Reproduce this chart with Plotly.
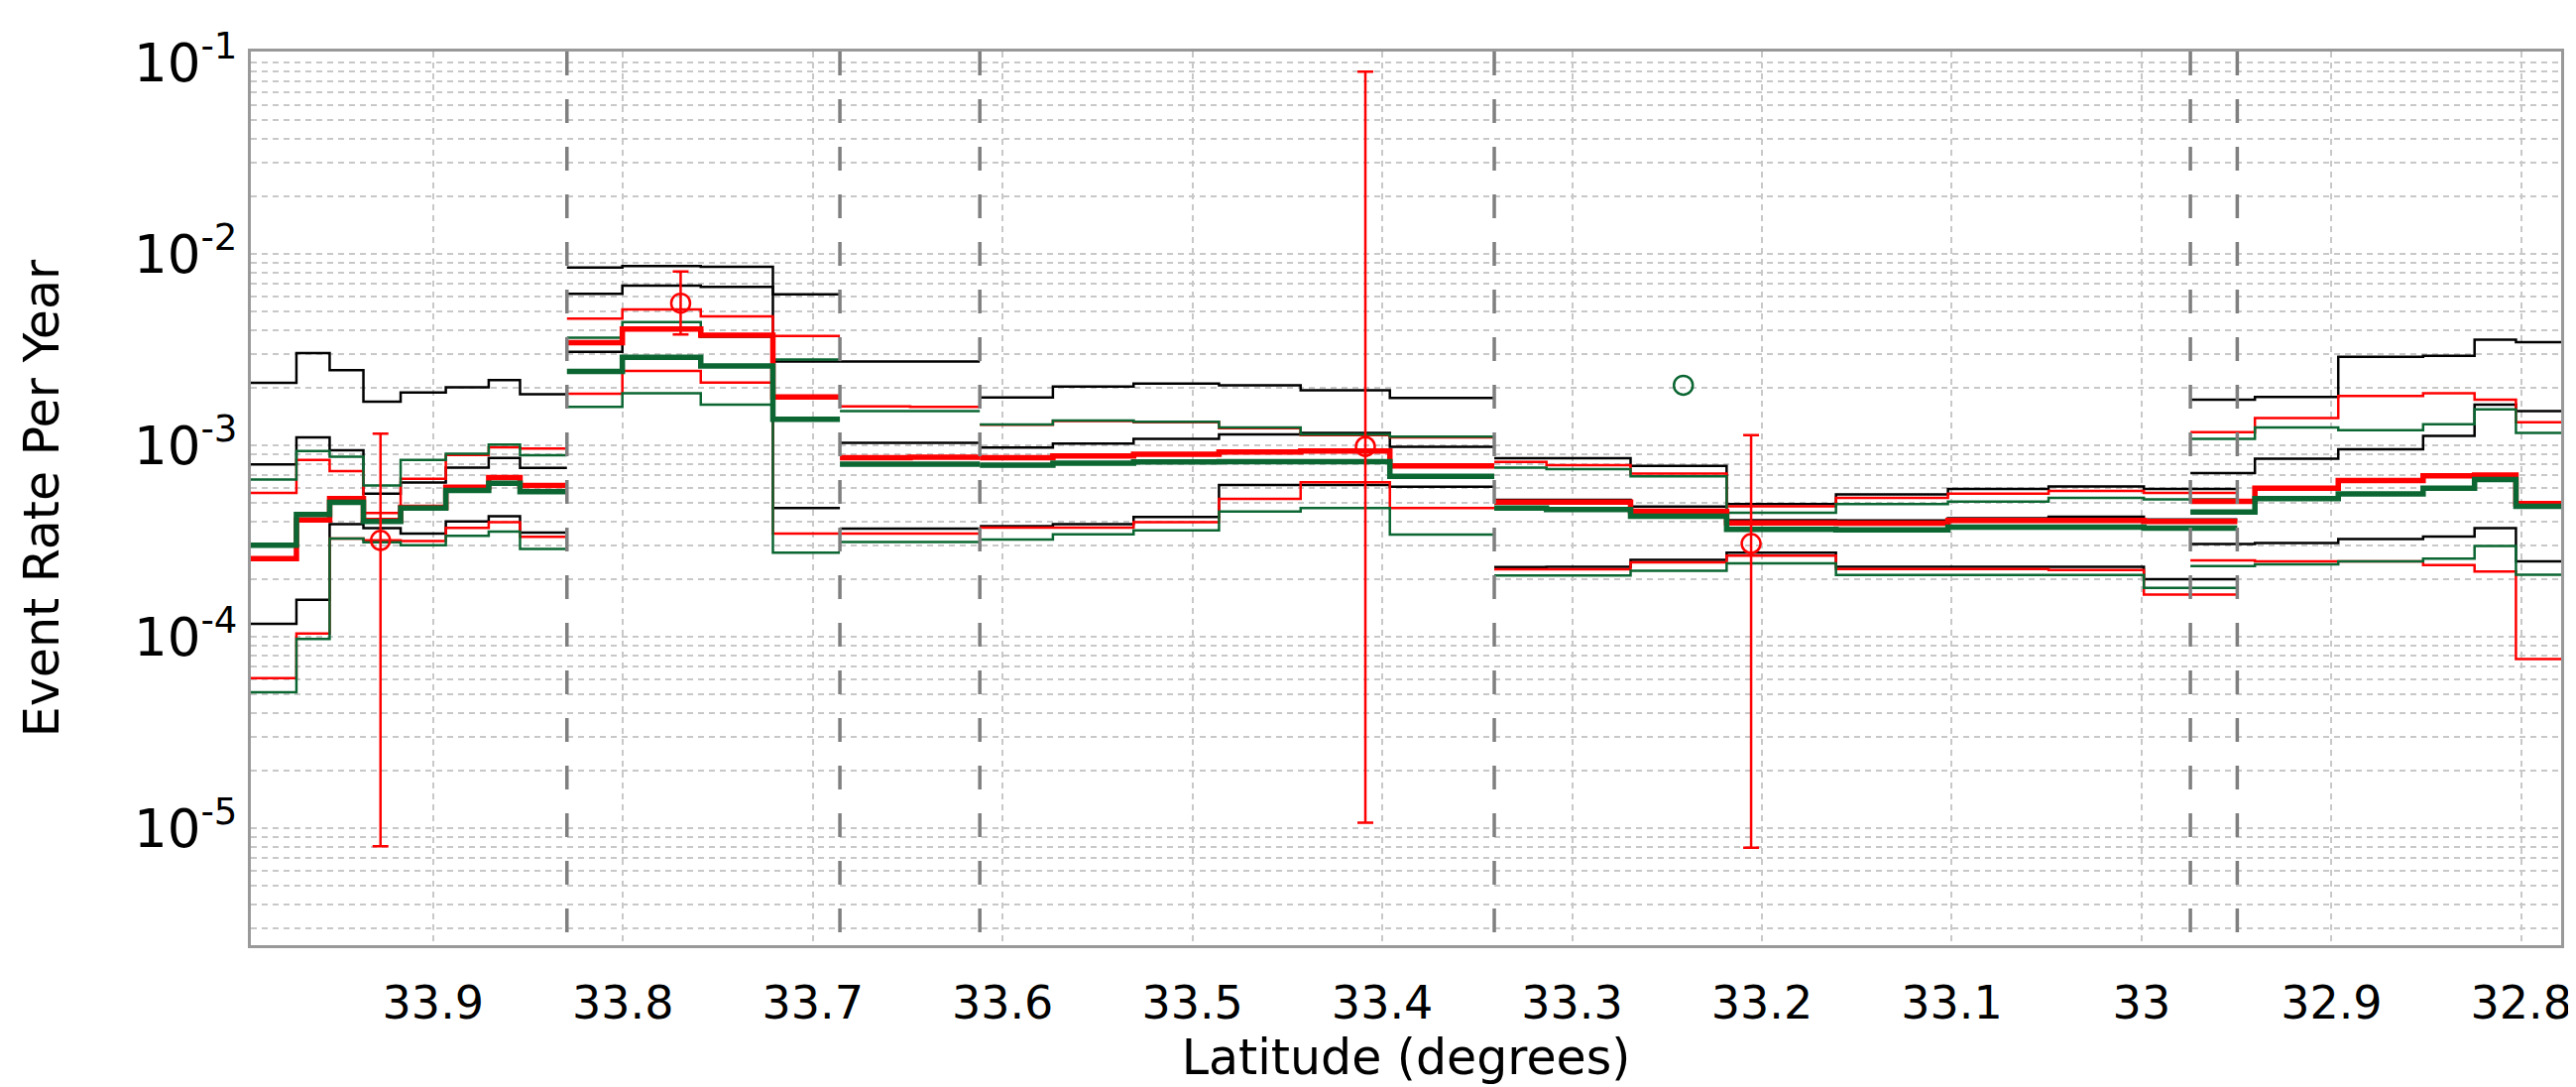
import plotly.graph_objects as go

# ---------------- data ----------------
# bin edges (latitude, degrees) for each fault segment
seg_edges = [
    [34.0, 33.972, 33.9545, 33.9367, 33.9171, 33.8933, 33.8707, 33.8542, 33.8295],
    [33.8295, 33.8003, 33.759, 33.721, 33.6857],
    [33.6857, 33.6487, 33.612],
    [33.612, 33.5735, 33.531, 33.486, 33.443, 33.396, 33.341],
    [33.341, 33.3135, 33.2692, 33.2186, 33.161, 33.102, 33.049, 32.9988, 32.9496],
    [32.9743, 32.9403, 32.8964, 32.8517, 32.8246, 32.8028, 32.75],
]

# segment boundary positions (dashed vertical lines)
boundaries = [33.8295, 33.6857, 33.612, 33.341, 32.9743, 32.9496]

black_hi = [
    [2.12e-3, 3.03e-3, 2.47e-3, 1.69e-3, 1.89e-3, 2.01e-3, 2.19e-3, 1.85e-3],
    [8.49e-3, 8.64e-3, 8.57e-3, 6.15e-3],
    [2.74e-3, 2.74e-3],
    [1.78e-3, 2.03e-3, 2.10e-3, 2.06e-3, 1.94e-3, 1.77e-3],
    [8.57e-4, 8.57e-4, 7.81e-4, 4.94e-4, 5.55e-4, 5.91e-4, 6.10e-4, 5.91e-4],
    [1.73e-3, 1.79e-3, 2.90e-3, 2.94e-3, 3.56e-3, 3.46e-3],
]
black_mid = [
    [7.95e-4, 1.10e-3, 9.42e-4, 5.60e-4, 6.39e-4, 7.66e-4, 8.59e-4, 7.62e-4],
    [6.18e-3, 6.83e-3, 6.72e-3, 2.74e-3],
    [1.03e-3, 1.03e-3],
    [9.73e-4, 1.02e-3, 1.08e-3, 1.14e-3, 1.16e-3, 9.84e-4],
    [5.19e-4, 5.19e-4, 4.79e-4, 4.06e-4, 4.05e-4, 4.16e-4, 4.24e-4, 4.10e-4],
    [7.16e-4, 8.51e-4, 9.55e-4, 1.12e-3, 1.63e-3, 1.51e-3],
]
black_lo = [
    [1.17e-4, 1.56e-4, 3.88e-4, 3.69e-4, 3.46e-4, 4.01e-4, 4.26e-4, 3.50e-4],
    [3.08e-3, 4.07e-3, 3.68e-3, 4.70e-4],
    [3.67e-4, 3.67e-4],
    [3.78e-4, 3.87e-4, 4.22e-4, 6.21e-4, 6.21e-4, 6.08e-4],
    [2.31e-4, 2.32e-4, 2.52e-4, 2.75e-4, 2.32e-4, 2.32e-4, 2.32e-4, 2.00e-4],
    [3.05e-4, 3.09e-4, 3.24e-4, 3.34e-4, 3.69e-4, 2.48e-4],
]
red_hi = [
    [5.65e-4, 8.40e-4, 7.33e-4, 4.43e-4, 6.68e-4, 8.91e-4, 9.77e-4, 9.62e-4],
    [4.59e-3, 5.13e-3, 4.72e-3, 3.73e-3],
    [1.60e-3, 1.59e-3],
    [1.28e-3, 1.34e-3, 1.32e-3, 1.23e-3, 1.13e-3, 1.10e-3],
    [8.18e-4, 7.87e-4, 7.13e-4, 4.81e-4, 5.31e-4, 5.60e-4, 5.78e-4, 5.65e-4],
    [1.17e-3, 1.39e-3, 1.81e-3, 1.87e-3, 1.73e-3, 1.32e-3],
]
red_med = [
    [2.56e-4, 4.08e-4, 5.27e-4, 4.05e-4, 4.74e-4, 6.04e-4, 6.78e-4, 6.18e-4],
    [3.44e-3, 4.05e-3, 3.76e-3, 1.79e-3],
    [8.63e-4, 8.66e-4],
    [8.63e-4, 8.81e-4, 8.98e-4, 9.22e-4, 9.33e-4, 7.81e-4],
    [5.05e-4, 5.05e-4, 4.53e-4, 3.93e-4, 3.92e-4, 4.05e-4, 4.05e-4, 4.01e-4],
    [5.10e-4, 5.97e-4, 6.56e-4, 6.93e-4, 7.00e-4, 4.97e-4],
]
red_lo = [
    [6.08e-5, 1.04e-4, 3.26e-4, 3.19e-4, 3.16e-4, 3.71e-4, 3.97e-4, 3.33e-4],
    [1.86e-3, 2.45e-3, 2.13e-3, 3.46e-4],
    [3.46e-4, 3.46e-4],
    [3.72e-4, 3.72e-4, 3.97e-4, 5.25e-4, 6.41e-4, 4.70e-4],
    [2.25e-4, 2.25e-4, 2.45e-4, 2.65e-4, 2.26e-4, 2.26e-4, 2.23e-4, 1.66e-4],
    [2.51e-4, 2.48e-4, 2.48e-4, 2.37e-4, 2.19e-4, 7.64e-5],
]
green_hi = [
    [6.62e-4, 9.33e-4, 8.71e-4, 6.18e-4, 8.40e-4, 9.04e-4, 1.01e-3, 8.87e-4],
    [3.65e-3, 4.41e-3, 3.68e-3, 2.81e-3],
    [1.51e-3, 1.51e-3],
    [1.285e-3, 1.35e-3, 1.33e-3, 1.24e-3, 1.14e-3, 1.11e-3],
    [7.66e-4, 7.52e-4, 6.89e-4, 4.45e-4, 4.94e-4, 5.08e-4, 5.32e-4, 5.22e-4],
    [1.08e-3, 1.24e-3, 1.20e-3, 1.29e-3, 1.54e-3, 1.16e-3],
]
green_med = [
    [3.01e-4, 4.35e-4, 5.04e-4, 4.01e-4, 4.71e-4, 5.82e-4, 6.33e-4, 5.72e-4],
    [2.43e-3, 2.88e-3, 2.60e-3, 1.37e-3],
    [7.97e-4, 7.97e-4],
    [7.87e-4, 8.07e-4, 8.19e-4, 8.22e-4, 8.22e-4, 6.89e-4],
    [4.70e-4, 4.62e-4, 4.26e-4, 3.64e-4, 3.62e-4, 3.74e-4, 3.74e-4, 3.69e-4],
    [4.49e-4, 5.27e-4, 5.57e-4, 5.97e-4, 6.62e-4, 4.81e-4],
]
green_lo = [
    [5.13e-5, 9.73e-5, 3.26e-4, 3.12e-4, 3.01e-4, 3.37e-4, 3.54e-4, 2.88e-4],
    [1.59e-3, 1.87e-3, 1.63e-3, 2.75e-4],
    [3.13e-4, 3.13e-4],
    [3.22e-4, 3.43e-4, 3.60e-4, 4.51e-4, 4.70e-4, 3.42e-4],
    [2.09e-4, 2.09e-4, 2.21e-4, 2.42e-4, 2.10e-4, 2.10e-4, 2.10e-4, 1.80e-4],
    [2.34e-4, 2.39e-4, 2.48e-4, 2.56e-4, 2.98e-4, 2.11e-4],
]

# observed rates (red circles with error bars)
obs_lat = [33.9277, 33.7696, 33.4089, 33.2057]
obs_rate = [3.19e-4, 5.53e-3, 9.86e-4, 3.07e-4]
obs_upper = [1.15e-3, 8.1e-3, 8.96e-2, 1.13e-3]
obs_lower = [8.05e-6, 3.8e-3, 1.07e-5, 7.9e-6]

# single green point
green_pt_lat = [33.2414]
green_pt_rate = [2.06e-3]

# axis ticks
x_ticks = [33.9, 33.8, 33.7, 33.6, 33.5, 33.4, 33.3, 33.2, 33.1, 33.0, 32.9, 32.8]
x_ticklabels = ["33.9", "33.8", "33.7", "33.6", "33.5", "33.4", "33.3", "33.2", "33.1", "33", "32.9", "32.8"]
y_decades = [-1, -2, -3, -4, -5]
y_minor_decades = [-2, -3, -4, -5, -6]
y_minor_mult = [2, 3, 4, 5, 6, 7, 8, 9]

# ---------------- styling ----------------
BLACK = "#000000"
RED = "#ff0000"
GREEN = "#0b6632"
THIN = 2.5
THICK = 5.5
FONT = "DejaVu Sans, Verdana, sans-serif"

series = [
    (black_hi, BLACK, THIN),
    (black_mid, BLACK, THIN),
    (black_lo, BLACK, THIN),
    (red_hi, RED, THIN),
    (red_lo, RED, THIN),
    (green_hi, GREEN, THIN),
    (green_lo, GREEN, THIN),
    (red_med, RED, THICK),
    (green_med, GREEN, THICK),
]

fig = go.Figure()

for vals, color, width in series:
    for edges, v in zip(seg_edges, vals):
        fig.add_trace(go.Scatter(
            x=edges, y=list(v) + [v[-1]], mode="lines",
            line=dict(color=color, width=width, shape="hv"),
            showlegend=False, hoverinfo="skip"))

fig.add_trace(go.Scatter(
    x=obs_lat, y=obs_rate, mode="markers",
    marker=dict(symbol="circle-open", size=19, color=RED, line=dict(width=2.5, color=RED)),
    error_y=dict(type="data", symmetric=False,
                 array=[u - r for u, r in zip(obs_upper, obs_rate)],
                 arrayminus=[r - l for r, l in zip(obs_rate, obs_lower)],
                 color=RED, thickness=2.5, width=8),
    showlegend=False))

fig.add_trace(go.Scatter(
    x=green_pt_lat, y=green_pt_rate, mode="markers",
    marker=dict(symbol="circle-open", size=19, color=GREEN, line=dict(width=2.5, color=GREEN)),
    showlegend=False))

for b in boundaries:
    fig.add_shape(type="line", xref="x", yref="paper", x0=b, x1=b, y0=1, y1=0,
                  line=dict(color="#7f7f7f", width=3.5, dash="24px,24px"), layer="above")

y_tickvals = [10.0 ** e for e in y_decades]
y_ticktext = [f"10<sup>-{-e}</sup>" for e in y_decades]
y_minor_vals = [m * 10.0 ** e for e in y_minor_decades for m in y_minor_mult]

GRID = "#c8c8c8"
GDASH = "6px,5px"
fig.update_layout(
    width=2598, height=1096,
    margin=dict(l=245, r=18, t=44, b=151),
    paper_bgcolor="white", plot_bgcolor="white",
    font=dict(family=FONT, color="black"),
    xaxis=dict(
        range=[33.996, 32.779], tickmode="array", tickvals=x_ticks, ticktext=x_ticklabels,
        tickfont=dict(size=46), ticklabelstandoff=16,
        showgrid=True, gridcolor=GRID, griddash=GDASH, gridwidth=1.5,
        showline=True, linecolor="#999999", linewidth=3, mirror=True, ticks="",
        zeroline=False,
        title=dict(text="Latitude (degrees)", font=dict(size=49), standoff=6),
    ),
    yaxis=dict(
        type="log", range=[-5.611, -0.943], tickmode="array",
        tickvals=y_tickvals, ticktext=y_ticktext, tickfont=dict(size=53),
        showgrid=True, gridcolor=GRID, griddash=GDASH, gridwidth=1.5,
        minor=dict(tickmode="array", tickvals=y_minor_vals, showgrid=True,
                   gridcolor=GRID, griddash=GDASH, gridwidth=1.5, ticks=""),
        showline=True, linecolor="#999999", linewidth=3, mirror=True, ticks="",
        zeroline=False,
        title=dict(text="Event Rate Per Year", font=dict(size=49), standoff=60),
    ),
)

fig.write_html("out.html")
